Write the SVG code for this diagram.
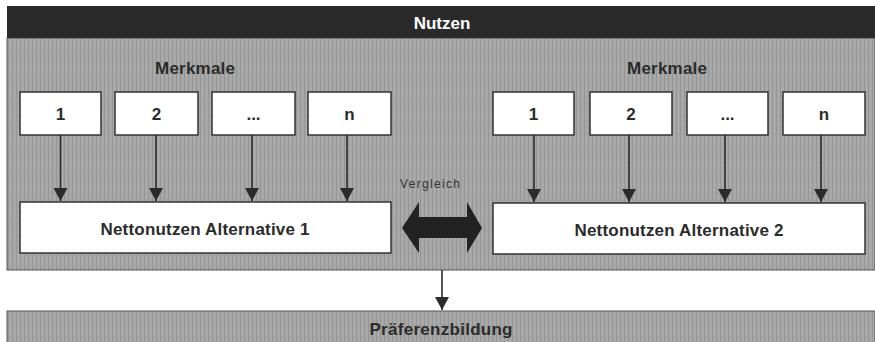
<svg xmlns="http://www.w3.org/2000/svg" width="875" height="342" viewBox="0 0 875 342">
<style>
text{font-family:"Liberation Sans",Arial,sans-serif;font-weight:bold;fill:#2b2b2b;text-anchor:middle}
.box{fill:#ffffff;stroke:#333333;stroke-width:1.5}
.lbl{font-size:17px}
.conn{stroke:#2b2b2b;stroke-width:1.6;fill:none}
</style>
<defs>
<pattern id="tex" width="4" height="6" patternUnits="userSpaceOnUse">
<rect width="4" height="6" fill="#a6a6a6"/>
<rect x="0" width="1" height="6" fill="#969696"/>
<rect x="2" y="3" width="1" height="3" fill="#b0b0b0"/>
</pattern>
<marker id="ah" markerWidth="13" markerHeight="14" refX="13" refY="7" orient="auto" markerUnits="userSpaceOnUse" viewBox="0 0 13 14">
<path d="M0,0 L13,7 L0,14 Z" fill="#2b2b2b"/>
</marker>
</defs>
<rect width="875" height="342" fill="#ffffff"/>
<g id="nutzen">
<rect x="7" y="38" width="868" height="232" fill="url(#tex)" stroke="#555" stroke-width="1"/>
<rect x="7" y="6" width="868" height="32" fill="#2a2a2a"/>
<text x="442" y="29" style="fill:#ffffff;font-size:17px">Nutzen</text>
</g>
<g id="praeferenzbildung">
<rect x="7" y="311" width="868" height="32" fill="url(#tex)" stroke="#555" stroke-width="1"/>
<text x="441" y="335" class="lbl" textLength="143">Präferenzbildung</text>
</g>
<g id="merkmale1"><text x="195" y="74" class="lbl" textLength="80">Merkmale</text></g>
<g id="merkmale2"><text x="667" y="74" class="lbl" textLength="80">Merkmale</text></g>
<g id="m1-1"><rect class="box" x="20" y="92" width="81" height="43"/><text x="60.5" y="120" class="lbl">1</text></g>
<g id="m1-2"><rect class="box" x="115" y="92" width="83" height="43"/><text x="156.5" y="120" class="lbl">2</text></g>
<g id="m1-3"><rect class="box" x="212" y="92" width="83" height="43"/><text x="253.5" y="120" class="lbl">...</text></g>
<g id="m1-n"><rect class="box" x="308" y="92" width="83" height="43"/><text x="349.5" y="120" class="lbl">n</text></g>
<g id="m2-1"><rect class="box" x="493" y="92" width="81" height="43"/><text x="533.5" y="120" class="lbl">1</text></g>
<g id="m2-2"><rect class="box" x="590" y="92" width="82" height="43"/><text x="631" y="120" class="lbl">2</text></g>
<g id="m2-3"><rect class="box" x="687" y="92" width="81" height="43"/><text x="727.5" y="120" class="lbl">...</text></g>
<g id="m2-n"><rect class="box" x="783" y="92" width="82" height="43"/><text x="824" y="120" class="lbl">n</text></g>
<g id="alt1"><rect class="box" x="20" y="202" width="371" height="51"/><text x="205" y="235" class="lbl" textLength="209">Nettonutzen Alternative 1</text></g>
<g id="alt2"><rect class="box" x="493" y="203" width="372" height="51"/><text x="679" y="236" class="lbl" textLength="209">Nettonutzen Alternative 2</text></g>
<g id="vergleich">
<text x="430" y="188" style="font-weight:normal;font-size:12px;fill:#333" textLength="60">Vergleich</text>
<path d="M402,228 L419,202 L419,217 L467,217 L467,202 L482,228 L467,253 L467,238 L419,238 L419,253 Z" fill="#222"/>
</g>
<g id="connectors">
<line class="conn" x1="60.5" y1="135" x2="60.5" y2="201" marker-end="url(#ah)"/>
<line class="conn" x1="156" y1="135" x2="156" y2="201" marker-end="url(#ah)"/>
<line class="conn" x1="252" y1="135" x2="252" y2="201" marker-end="url(#ah)"/>
<line class="conn" x1="347" y1="135" x2="347" y2="201" marker-end="url(#ah)"/>
<line class="conn" x1="534" y1="135" x2="534" y2="202" marker-end="url(#ah)"/>
<line class="conn" x1="629" y1="135" x2="629" y2="202" marker-end="url(#ah)"/>
<line class="conn" x1="725" y1="135" x2="725" y2="202" marker-end="url(#ah)"/>
<line class="conn" x1="821" y1="135" x2="821" y2="202" marker-end="url(#ah)"/>
<line class="conn" x1="442" y1="270" x2="442" y2="310" marker-end="url(#ah)"/>
</g>
</svg>
